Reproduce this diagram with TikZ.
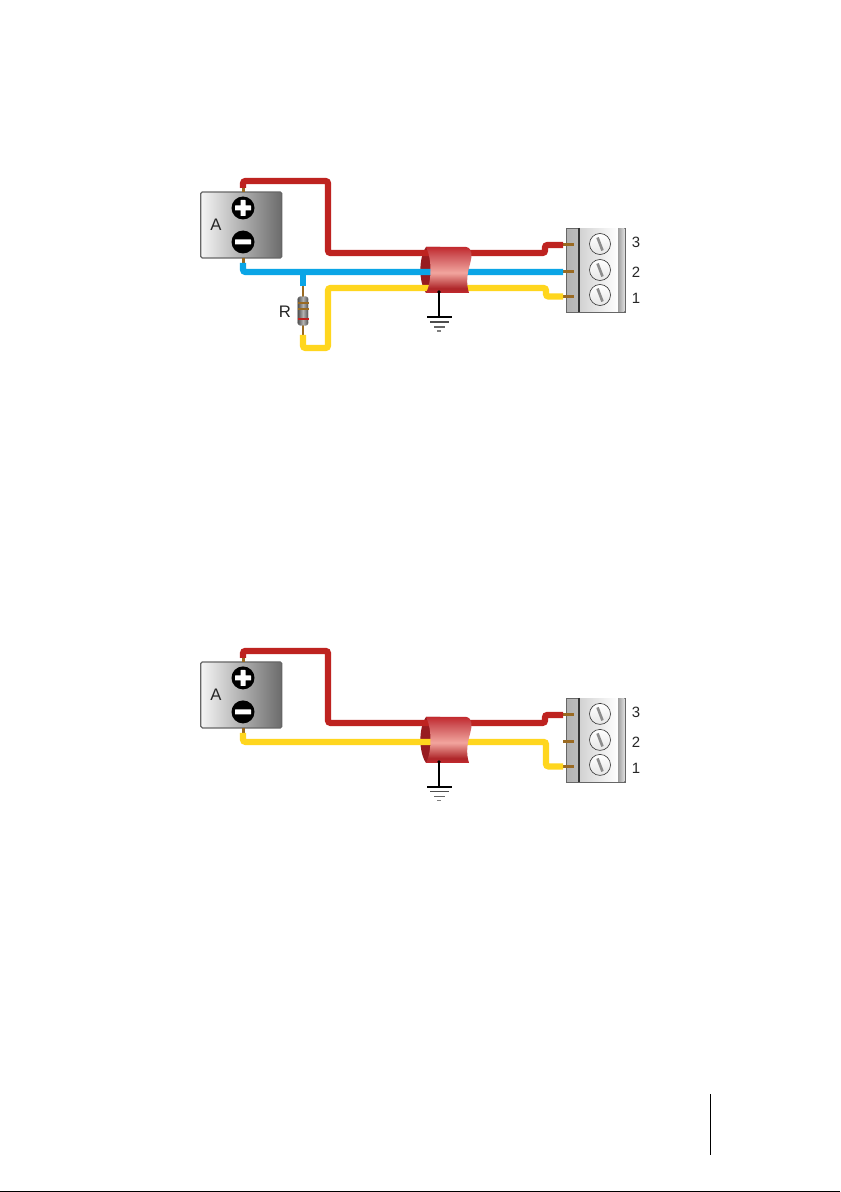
\documentclass[tikz,border=0pt]{standalone}
\usepackage{fontspec}
\setmainfont{Liberation Sans}
\definecolor{wred}{HTML}{BE2320}
\definecolor{wblue}{HTML}{0AA5E6}
\definecolor{wyel}{HTML}{FFD61E}
\definecolor{lead}{HTML}{9A6A22}
\definecolor{shdark}{HTML}{C22A2E}
\definecolor{shlight}{HTML}{F2A59E}
\definecolor{shback}{HTML}{971B20}
\pgfdeclareverticalshading{tube}{100bp}{color(0bp)=(shdark); color(25bp)=(shdark); color(30bp)=(shdark!90!black); color(47bp)=(shlight); color(66bp)=(shdark!80!white); color(75bp)=(shdark); color(100bp)=(shdark)}
\tikzset{x=0.02cm,y=-0.02cm,
 wire/.style={line width=0.125cm,rounded corners=0.05cm,line cap=butt},
 redw/.style={wire,draw=wred},
 bluew/.style={wire,draw=wblue},
 yelw/.style={wire,draw=wyel},
 leadw/.style={line width=0.06cm,draw=lead},
 lbl/.style={font=\fontsize{9.5pt}{11pt}\selectfont,text=black!85,inner sep=0pt},
 numlbl/.style={font=\fontsize{8.5pt}{10pt}\selectfont,text=black!85,inner sep=0pt},
 sign/.style={circle,fill=black,minimum size=0.46cm,inner sep=0pt},
 screw/.style={circle,draw=black!80,line width=0.35pt,top color=white,bottom color=black!10,minimum size=0.42cm,inner sep=0pt},
 gndl/.style={line width=0.6pt,draw=black}}
\newcommand{\sourcebox}[1]{%
 \node[draw=black!60,line width=0.7pt,rounded corners=0.03cm,left color=black!4,right color=black!58,minimum width=1.62cm,minimum height=1.32cm,inner sep=0pt] (box#1) at (241.3,225) {};
 \node[sign] (plus#1) at (243,208) {};
 \fill[white,rounded corners=0.2pt] (235,205.5) rectangle (251,210.5) (240.5,200) rectangle (245.5,216);
 \node[sign] (minus#1) at (243,242) {};
 \fill[white,rounded corners=0.2pt] (235,239.5) rectangle (251,244.5);
 \node[lbl] (a#1) at (216,225) {A};
 \coordinate (pl#1) at (243,192);
 \coordinate (ml#1) at (243,258);
 \coordinate (ps#1) at (243,188);
 \coordinate (ms#1) at (243,263);
 \draw[leadw] (pl#1) -- (ps#1);
 \draw[leadw] (ml#1) -- (ms#1);
}
\newcommand{\shieldback}[1]{%
 \fill[shback] (426,247) .. controls (418.5,258) and (418.5,282) .. (426,293) -- (440,293) -- (440,247) -- cycle;
}
\newcommand{\shieldfront}[1]{%
 \path[shading=tube]
   (426,247) -- (466,247) .. controls (473,248) and (472,257) .. (470,264) .. controls (467,274) and (466,284) .. (469,293) -- (426,293) .. controls (432,282) and (432,258) .. (426,247) -- cycle;
 \coordinate (sb#1) at (439,292);
 \coordinate (gnd#1) at (439,317);
 \draw[gndl] (sb#1) -- (gnd#1);
 \fill[black] (sb#1) circle (1.8);
 \draw[line width=0.9pt,draw=black] (427,317) -- (452,317);
 \draw[gndl,draw=black!70] (430,322) -- (449,322);
 \draw[gndl,draw=black!60] (434,327) -- (445,327);
 \draw[gndl,draw=black!50] (437,331) -- (441,331);
}
\newcommand{\termblock}[1]{%
 \node[draw=black!60,line width=0.5pt,left color=black!30,right color=black!12,minimum width=1.18cm,minimum height=1.68cm,inner sep=0pt,anchor=north west] (tb#1) at (566,228) {};
 \fill[left color=black!18,right color=white] (579,228.3) rectangle (618,311.7);
 \fill[left color=black!38,right color=black!12] (618,228.3) rectangle (624.7,311.7);
 \draw[black!80,line width=0.7pt] (579,228) -- (579,312);
 \foreach \n/\yy/\ly in {3/244/245,2/270/272,1/295/296.5}{
  \node[screw] (sc#1\n) at (600,\yy) {};
  \draw[black!45,line width=1.5pt] (597.5,\yy-6.5) -- (602.5,\yy+6.5);
  \draw[leadw] (563,\ly) -- (574,\ly);
 }
 \coordinate (t3#1) at (563,245);
 \coordinate (t2#1) at (563,272);
 \coordinate (t1#1) at (563,296.5);
 \node[numlbl] (n3#1) at (636,242) {3};
 \node[numlbl] (n2#1) at (636,272) {2};
 \node[numlbl] (n1#1) at (636,298) {1};
}
\begin{document}
\begin{tikzpicture}
\useasboundingbox (0,0) rectangle (840,1192);
\fill[white] (0,0) rectangle (840,1192);
% upper diagram
\shieldback{u}
\sourcebox{u}
\termblock{u}
\coordinate (ru1) at (328,181);
\coordinate (ru2) at (545,253);
\coordinate (bj) at (303,272);
\coordinate (rt) at (303,286);
\coordinate (rb) at (303,335);
\coordinate (yu1) at (328,348);
\coordinate (yu2) at (546,288);
\draw[redw] (psu) |- (ru1) |- (ru2) |- (t3u);
\draw[bluew] (msu) |- (t2u);
\draw[bluew] (bj) -- (rt);
\draw[leadw,line width=0.05cm] (rt) -- (303,297) (303,325) -- (rb);
\draw[yelw] (rb) |- (yu1) |- (yu2) |- (t1u);
\node[draw=black!45,line width=0.2pt,left color=black!70,right color=black!70,middle color=black!30,rounded corners=0.06cm,minimum width=0.22cm,minimum height=0.58cm,inner sep=0pt] (res) at (303,311) {};
\draw[lead,line width=0.9pt] (297.5,303) -- (308.5,303);
\draw[lead,line width=0.9pt] (297.5,309) -- (308.5,309);
\draw[wred,line width=0.9pt] (297.5,319) -- (308.5,319);
\node[lbl] (r) at (285,312) {R};
\shieldfront{u}
% lower diagram
\begin{scope}[yshift=-9.4cm]
\shieldback{l}
\sourcebox{l}
\termblock{l}
\coordinate (rl1) at (328,181);
\coordinate (rl2) at (545,253);
\coordinate (yl1) at (546,272);
\draw[redw] (psl) |- (rl1) |- (rl2) |- (t3l);
\draw[yelw] (msl) |- (yl1) |- (t1l);
\shieldfront{l}
\end{scope}
% page furniture
\coordinate (pm1) at (710.5,1094);
\coordinate (pm2) at (710.5,1155);
\draw[line width=0.03cm,black] (pm1) -- (pm2);
\coordinate (bl1) at (0,1191.5);
\coordinate (bl2) at (840,1191.5);
\draw[line width=0.02cm,black] (bl1) -- (bl2);
\end{tikzpicture}
\end{document}
